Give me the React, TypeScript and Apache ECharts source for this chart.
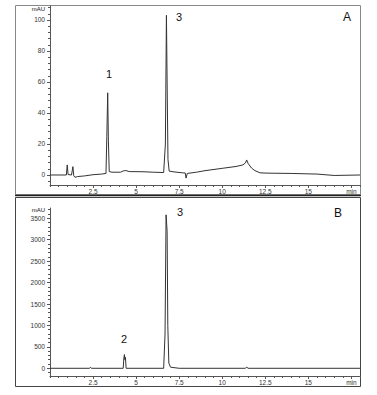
import React, { useEffect, useRef } from "react";
import * as echarts from "echarts";

// Chromatogram A (mAU vs min)
const timesA = [0, 0.95, 1.0, 1.05, 1.25, 1.33, 1.38, 1.45, 1.6, 2.0, 2.5, 3.0, 3.25, 3.3, 3.35, 3.39, 3.44, 3.6, 4.1, 4.25, 4.4, 4.6, 5.4, 6.0, 6.6, 6.7, 6.76, 6.8, 6.85, 6.92, 7.2, 7.7, 7.85, 7.9, 7.97, 8.5, 9.0, 10.0, 10.8, 11.2, 11.35, 11.42, 11.5, 11.7, 11.9, 12.2, 12.6, 14.0, 15.5, 16.5, 18.0];
const valuesA = [0, 0, 6.5, 0.3, 0, 5.4, -0.5, -1.5, -1.0, -0.6, 0.2, 0.6, 1.0, 25, 53, 22, 2.2, 1.8, 1.8, 2.6, 2.9, 2.2, 2.1, 1.8, 1.6, 20, 103, 60, 10, 2.5, 2.0, 1.4, 1.3, -2.0, 1.0, 1.8, 2.8, 4.3, 5.5, 6.5, 7.8, 9.7, 7.5, 4.5, 2.8, 1.4, 1.2, 1.0, 0.6, -0.3, 0];

// Chromatogram B
const timesB = [0, 2.3, 2.35, 2.4, 4.25, 4.29, 4.32, 4.35, 4.38, 4.42, 6.6, 6.68, 6.74, 6.8, 6.84, 6.9, 7.0, 7.5, 11.35, 11.42, 11.5, 18.0];
const valuesB = [0, 0, 25, 0, 0, 240, 320, 200, 260, 0, 0, 800, 3580, 3200, 1000, 120, 25, 0, 0, 30, 0, 0];

const xLabelValues = [2.5, 5, 7.5, 10, 12.5, 15, 17.5];
const yLabelsA = [0, 20, 40, 60, 80, 100];
const yLabelsB = [0, 500, 1000, 1500, 2000, 2500, 3000, 3500];

const peakLabelsA = ["1", "3"];
const peakLabelsB = ["2", "3"];
const panelNames = ["A", "B"];

function range(a: number, b: number, s: number) {
  const out: number[] = [];
  for (let v = a; v <= b + 1e-9; v += s) out.push(Math.round(v * 1000) / 1000);
  return out;
}

const FONT = "Liberation Sans, Arial, sans-serif";
const AX = "#555";

export default function App() {
  const ref = useRef<HTMLDivElement>(null);
  useEffect(() => {
    if (!ref.current) return;
    const chart = echarts.init(ref.current, null, { renderer: "svg" });
    const dataA = timesA.map((t, i) => [t, valuesA[i]]);
    const dataB = timesB.map((t, i) => [t, valuesB[i]]);

    const grids = [
      { left: 50, top: 6, width: 310, height: 179 },
      { left: 50, top: 208, width: 310, height: 168 },
    ];
    const yRanges = [
      [-6.45, 109],
      [-180, 3740],
    ];
    const yMajor = [yLabelsA, yLabelsB];
    const yMinor = [range(-4, 108, 4), range(-100, 3700, 100)];
    const xMinor = range(0, 18, 0.5);

    const xAxes: any[] = [];
    const yAxes: any[] = [];
    [0, 1].forEach((g) => {
      xAxes.push({
        type: "value",
        gridIndex: g,
        position: "bottom",
        min: 0,
        max: 18,
        axisLine: { show: true, onZero: false, lineStyle: { color: AX, width: 1 } },
        axisTick: { show: true, length: 3, customValues: xLabelValues, lineStyle: { color: AX } },
        axisLabel: {
          show: true,
          customValues: xLabelValues,
          fontSize: 6.5,
          color: "#333",
          fontFamily: FONT,
          margin: 3,
          formatter: (v: number) => (v === 17.5 ? "min" : String(v)),
        },
        splitLine: { show: false },
      });
      xAxes.push({
        type: "value",
        gridIndex: g,
        position: "bottom",
        min: 0,
        max: 18,
        axisLine: { show: false, onZero: false },
        axisTick: { show: true, length: 2, customValues: xMinor, lineStyle: { color: AX } },
        axisLabel: { show: false },
        splitLine: { show: false },
      });
      yAxes.push({
        type: "value",
        gridIndex: g,
        position: "left",
        min: yRanges[g][0],
        max: yRanges[g][1],
        axisLine: { show: true, onZero: false, lineStyle: { color: AX, width: 1 } },
        axisTick: { show: true, length: 3, customValues: yMajor[g], lineStyle: { color: AX } },
        axisLabel: {
          show: true,
          customValues: yMajor[g],
          fontSize: 6.5,
          color: "#333",
          fontFamily: FONT,
          margin: 5,
          formatter: (v: number) => String(v),
        },
        splitLine: { show: false },
      });
      yAxes.push({
        type: "value",
        gridIndex: g,
        position: "left",
        min: yRanges[g][0],
        max: yRanges[g][1],
        axisLine: { show: false, onZero: false },
        axisTick: { show: true, length: 2, customValues: yMinor[g], lineStyle: { color: AX } },
        axisLabel: { show: false },
        splitLine: { show: false },
      });
    });

    const txt = (x: number, y: number, text: string, size: number, align = "center") => ({
      type: "text",
      x,
      y,
      style: { text, fontSize: size, fontFamily: FONT, fill: "#111", align, verticalAlign: "middle" },
      z: 10,
    });

    chart.setOption({
      animation: false,
      backgroundColor: "#fff",
      grid: grids,
      xAxis: xAxes,
      yAxis: yAxes,
      series: [
        {
          type: "line",
          xAxisIndex: 0,
          yAxisIndex: 0,
          data: dataA,
          showSymbol: false,
          lineStyle: { color: "#333", width: 1 },
        },
        {
          type: "line",
          xAxisIndex: 2,
          yAxisIndex: 2,
          data: dataB,
          showSymbol: false,
          lineStyle: { color: "#333", width: 1 },
        },
      ],
      graphic: [
        { type: "rect", shape: { x: 15.5, y: 5.5, width: 345, height: 189 }, style: { fill: "none", stroke: "#888", lineWidth: 1 } },
        { type: "line", shape: { x1: 15, y1: 195.5, x2: 361, y2: 195.5 }, style: { stroke: "#222", lineWidth: 1.5 } },
        { type: "rect", shape: { x: 15.5, y: 197.5, width: 345, height: 189 }, style: { fill: "none", stroke: "#444", lineWidth: 1 } },
        txt(45, 9, "mAU", 6, "right"),
        txt(45, 210, "mAU", 6, "right"),
        txt(109, 74, peakLabelsA[0], 11),
        txt(179, 17, peakLabelsA[1], 11),
        txt(347, 17, panelNames[0], 12),
        txt(124, 339, peakLabelsB[0], 11),
        txt(180, 212, peakLabelsB[1], 11),
        txt(338, 213, panelNames[1], 12),
      ],
    });
    return () => chart.dispose();
  }, []);
  return (
    <div
      ref={ref}
      style={{ position: "fixed", left: 0, top: 0, width: 377, height: 395, background: "#fff" }}
    />
  );
}
